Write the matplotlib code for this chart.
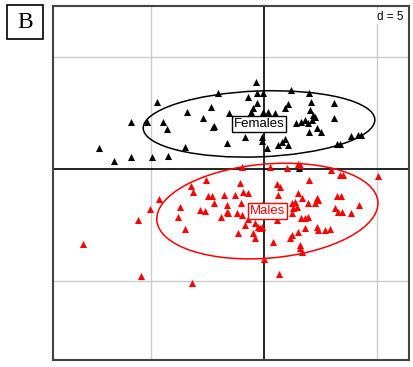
import matplotlib
matplotlib.use('Agg')
import matplotlib.pyplot as plt
from matplotlib.patches import Ellipse, Rectangle
import numpy as np

# factorial map coordinates (grid spacing d = 5)
fem_x = [-4.73, -2.04, -3.41, -2.35, -5.88, -5.18, -4.47, -4.29, -2.70, -2.26, -2.20,
         -1.55, -1.64, -3.50, -7.30, -6.64, -5.88, -4.96, -4.25, -0.35, -0.31, -0.04,
         1.19, 1.99, -0.71, -0.31, 2.08, 3.10, 1.06, 0.93, -0.49, -0.58, -0.04, 0.18,
         0.49, 2.04, 2.17, 2.12, 2.26, 3.10, 1.42, 1.64, 1.81, 1.95, 1.99, 2.35, 2.52,
         -0.84, -0.09, -0.09, 0.93, 0.80, 0.62, 1.06, 0.13, 3.23, 3.36, 3.85, 4.16,
         4.29, 1.55]
fem_y = [2.99, 3.39, 2.54, 2.77, 2.10, 2.10, 2.10, 1.79, 2.28, 1.88, 1.92,
         2.50, 1.16, 0.98, 0.94, 0.36, 0.54, 0.54, 0.58, 3.88, 3.39, 3.39,
         3.53, 3.39, 3.21, 2.95, 2.99, 2.95, 2.90, 2.72, 2.72, 2.54, 2.54, 2.54,
         2.50, 2.63, 2.41, 2.19, 2.32, 2.28, 2.05, 2.10, 2.19, 2.05, 1.65, 1.83, 1.65,
         1.43, 1.43, 1.25, 1.34, 1.21, 1.07, 1.07, 0.94, 1.12, 1.12, 1.47, 1.52,
         1.52, 0.04]

mal_x = [-2.57, -3.23, -3.14, -4.65, -5.04, -5.58, -3.72, -3.81, -3.50, -2.83, -2.61,
         -2.48, -2.30, -1.77, -2.21, -1.90, -1.64, -1.64, -8.01, -5.44, -3.19, -0.97,
         0.27, 1.02, 1.50, 1.59, 2.96, 3.36, 3.50, 5.04, -1.06, 0.58, 0.71, 1.99,
         -1.28, -0.93, -0.71, 0.62, 1.50, 1.68, 2.35, 2.26, 2.39, 1.95, 3.23, 3.41,
         4.20, -1.02, -1.59, -1.19, -0.97, 1.24, 1.37, 1.46, 1.28, 1.24, 1.64, 1.81,
         1.95, 3.14, 3.27, 3.45, 3.85, 0.58, -0.71, -0.40, -0.27, -0.18, -0.09, -0.84,
         -1.15, -0.49, -0.40, 0.40, 1.81, 1.50, 1.15, 1.24, 2.35, 2.39, 2.70, 2.92,
         1.59, 1.68, 1.59, 0.00, 0.66, -0.09, 0.27]
mal_y = [-0.49, -0.76, -1.03, -1.34, -1.79, -2.28, -1.70, -2.14, -2.68, -1.83, -1.88,
         -1.21, -1.21, -1.16, -1.52, -2.14, -1.61, -1.92, -3.35, -4.78, -5.09, 0.09,
         0.09, 0.04, 0.22, 0.18, -0.04, -0.27, -0.27, -0.31, -0.63, -0.67, -0.80, -0.49,
         -1.16, -1.03, -1.07, -1.16, -1.07, -1.29, -1.29, -1.52, -1.38, -1.52, -1.21, -1.21,
         -1.61, -1.52, -1.96, -1.96, -2.05, -1.52, -1.47, -1.70, -1.74, -1.96, -2.19, -2.19,
         -2.14, -1.74, -1.92, -1.92, -1.96, -2.28, -2.23, -2.41, -2.59, -2.63, -2.59, -2.50,
         -2.86, -2.86, -3.08, -3.26, -2.63, -2.81, -3.08, -2.95, -2.59, -2.72, -2.72, -2.68,
         -3.39, -3.71, -3.53, -4.02, -4.69, -1.61, -1.83]

groups = ['Females', 'Males']
colors = ['black', 'red']
centers = [(-0.22, 2.01), (0.15, -1.88)]
half_axes = [(5.13, 1.47), (4.91, 2.10)]
angles = [2.2, 5.0]

fig = plt.figure(figsize=(4.14, 3.67), dpi=100)
ax = fig.add_axes([0.128, 0.019, 0.860, 0.965])
ax.set_xlim(-9.34, 6.42)
ax.set_ylim(-8.53, 7.28)

for g in [-5, 5]:
    ax.axvline(g, color='#cccccc', lw=1, zorder=0)
    ax.axhline(g, color='#cccccc', lw=1, zorder=0)
ax.axvline(0, color='black', lw=1.2, zorder=1)
ax.axhline(0, color='black', lw=1.2, zorder=1)

pts = [(fem_x, fem_y), (mal_x, mal_y)]
for (xs, ys), col in zip(pts, colors):
    ax.scatter(xs, ys, marker='^', s=26, color=col, linewidths=0, zorder=3)

for name, col, c, (a, b), ang in zip(groups, colors, centers, half_axes, angles):
    ax.add_patch(Ellipse(c, 2 * a, 2 * b, angle=ang, fill=False, edgecolor=col,
                         lw=1.1, zorder=4))
    ax.text(c[0], c[1], name, color=col, fontsize=9.5, family='Liberation Sans',
            ha='center', va='center', zorder=5,
            bbox=dict(boxstyle='square,pad=0.15', fc='white', ec=col, lw=1))

ax.text(0.985, 0.985, 'd = 5', transform=ax.transAxes, ha='right', va='top',
        fontsize=8.5, family='Liberation Sans', zorder=6,
        bbox=dict(boxstyle='square,pad=0.1', fc='white', ec='none'))

ax.set_xticks([])
ax.set_yticks([])
for sp in ax.spines.values():
    sp.set_color('#444444')
    sp.set_linewidth(1.5)

# panel letter
fig.patches.append(Rectangle((7 / 414, 1 - 39 / 367), 36 / 414, 34 / 367,
                             transform=fig.transFigure, fill=False,
                             edgecolor='black', lw=1.2))
fig.text(25 / 414, 1 - 22 / 367, 'B', ha='center', va='center', fontsize=17,
         family='Liberation Serif')

fig.savefig('out.png', dpi=100)
